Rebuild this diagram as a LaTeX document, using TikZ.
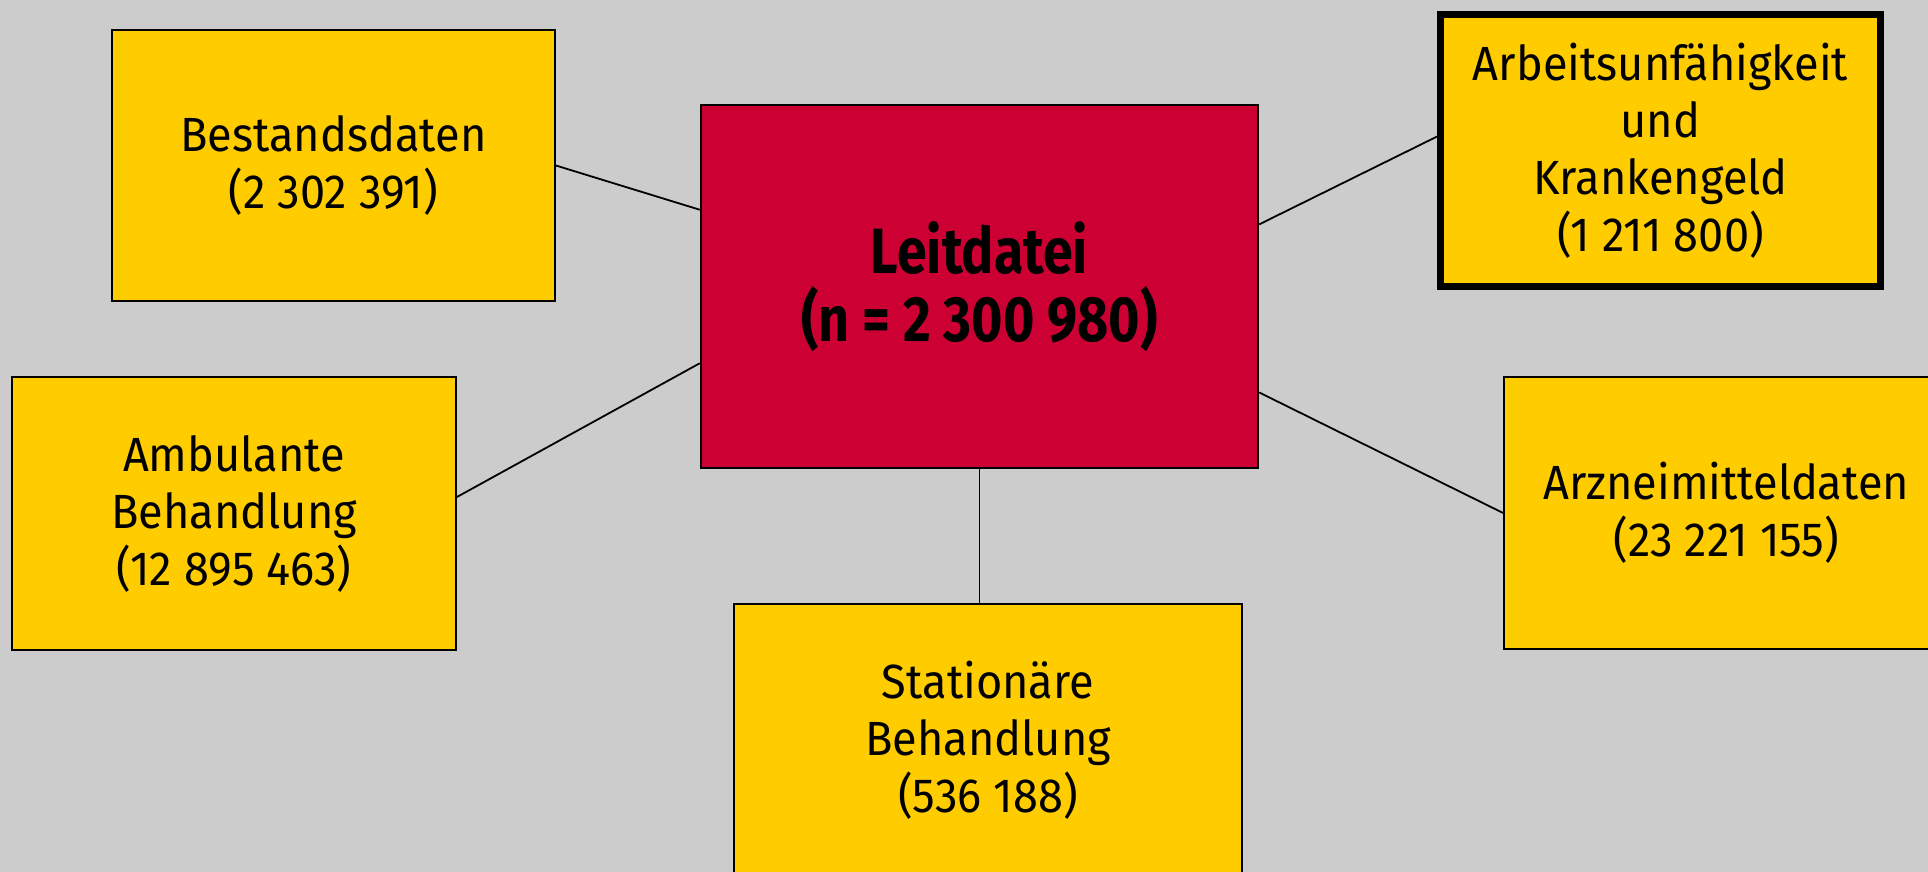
\documentclass[tikz,border=0pt]{standalone}
\usepackage{fontspec}
\setmainfont{Fira Sans}[FakeStretch=0.94]
\newfontfamily\leitfont{Fira Sans}[FakeStretch=0.84]
\usepackage{xcolor}
\usetikzlibrary{calc}

\definecolor{bggray}{HTML}{CCCCCC}
\definecolor{boxyellow}{HTML}{FFCC00}
\definecolor{leitred}{HTML}{CC0033}

\begin{document}
\begin{tikzpicture}[x=0.5pt, y=-0.5pt,
        datbox/.style={rectangle, draw, line width=0.9pt, fill=boxyellow,
            align=center, inner sep=0pt, font=\fontsize{24}{28.5}\selectfont},
        link/.style={line width=0.9pt}]
        \useasboundingbox (0, 0) rectangle (1928, 872);
        \clip (0, 0) rectangle (1928, 872);
        \fill[bggray] (0, 0) rectangle (1928, 872);

        \node[rectangle, draw, line width=1.25pt, fill=leitred, align=center,
            minimum width=278.5pt, minimum height=181.5pt,
            font=\leitfont\bfseries\fontsize{32}{34}\selectfont] at (979.5, 286.5) (leit)
            {Leitdatei\\(n = 2 300 980)};
        \node[datbox, minimum width=221.5pt, minimum height=135.5pt] at (333.5, 165.5) (best)
            {Bestandsdaten\\(2 302 391)};
        \node[datbox, minimum width=222pt, minimum height=136.5pt] at (234, 513.5) (amb)
            {Ambulante\\Behandlung\\(12 895 463)};
        \node[datbox, minimum width=254pt, minimum height=136.5pt] at (988, 740.5) (stat)
            {Stationäre\\Behandlung\\(536 188)};
        \node[datbox, line width=3.5pt, minimum width=220pt, minimum height=136pt] at (1660.5, 150.5) (arb)
            {Arbeitsunfähigkeit\\und\\Krankengeld\\(1 211 800)};
        \node[datbox, minimum width=222.5pt, minimum height=136pt] at (1726.5, 513) (arz)
            {Arzneimitteldaten\\(23 221 155)};

        \draw[link] (best.east) to ($(leit.north west)!0.29!(leit.south west)$);
        \draw[link] ($(amb.north east)!0.44!(amb.south east)$) to ($(leit.north west)!0.71!(leit.south west)$);
        \draw[link] ($(leit.north east)!0.33!(leit.south east)$) to ($(arb.north west)!0.45!(arb.south west)$);
        \draw[link] ($(leit.north east)!0.79!(leit.south east)$) to (arz.west);
        \draw[link] (leit.south) to (leit.south |- stat.north);
    \end{tikzpicture}
\end{document}
